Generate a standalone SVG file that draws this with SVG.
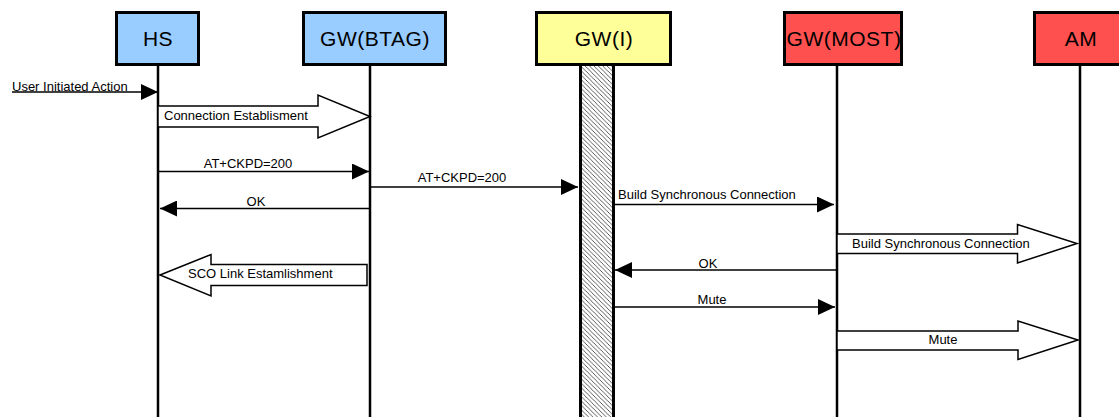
<svg xmlns="http://www.w3.org/2000/svg" width="1119" height="417" viewBox="0 0 1119 417">
  <style>
    .box { stroke: #000; stroke-width: 3; }
    .blue { fill: #99CCFF; }
    .yellow { fill: #FFFF99; }
    .red { fill: #FF5050; }
    .title { font-family: "Liberation Sans", Arial, sans-serif; font-size: 21px; letter-spacing: 0.5px; text-anchor: middle; fill: #000; }
    .life { stroke: #000; stroke-width: 2.5; fill: none; }
    .msg { stroke: #000; stroke-width: 1.5; fill: none; marker-end: url(#head); }
    .big { stroke: #000; stroke-width: 1.5; fill: #fff; stroke-linejoin: miter; }
    .lbl { font-family: "Liberation Sans", Arial, sans-serif; font-size: 13px; fill: #000; }
    .mid { text-anchor: middle; }
  </style>
  <defs>
    <marker id="head" markerUnits="userSpaceOnUse" markerWidth="17" markerHeight="16" refX="17" refY="8" orient="auto">
      <path d="M0,0 L17,8 L0,16 Z" fill="#000"/>
    </marker>
    <pattern id="hatch" patternUnits="userSpaceOnUse" width="4.4" height="4.4">
      <path d="M-1,-1 L5.4,5.4 M-1,3.4 L1,5.4 M3.4,-1 L5.4,1" stroke="#333" stroke-width="0.8"/>
    </pattern>
  </defs>

  <rect width="1119" height="417" fill="#fff"/>

  <!-- participants with their lifelines -->
  <g id="hs">
    <line class="life" x1="158" y1="65" x2="158" y2="417"/>
    <rect class="box blue" x="116.5" y="12.5" width="82" height="52"/>
    <text class="title" x="158" y="46">HS</text>
  </g>
  <g id="gw-btag">
    <line class="life" x1="370" y1="65" x2="370" y2="417"/>
    <rect class="box blue" x="303.5" y="12.5" width="142" height="52"/>
    <text class="title" x="375" y="46">GW(BTAG)</text>
  </g>
  <g id="gw-i">
    <rect x="581" y="65" width="32" height="352" fill="url(#hatch)"/>
    <line x1="580.5" y1="65" x2="580.5" y2="417" stroke="#000" stroke-width="3"/>
    <line x1="613.5" y1="65" x2="613.5" y2="417" stroke="#000" stroke-width="3"/>
    <rect class="box yellow" x="536.5" y="12.5" width="134" height="52"/>
    <text class="title" x="604" y="46">GW(I)</text>
  </g>
  <g id="gw-most">
    <line class="life" x1="837" y1="65" x2="837" y2="417"/>
    <rect class="box red" x="784.5" y="12.5" width="117" height="52"/>
    <text class="title" x="844" y="46">GW(MOST)</text>
  </g>
  <g id="am">
    <line class="life" x1="1080" y1="65" x2="1080" y2="417"/>
    <rect class="box red" x="1034.5" y="12.5" width="120" height="52"/>
    <text class="title" x="1081" y="46">AM</text>
  </g>

  <!-- messages -->
  <g id="connectors">
    <line class="msg" x1="12" y1="92" x2="158" y2="92"/>
    <text class="lbl" x="12" y="90.5">User Initiated Action</text>

    <polygon class="big" points="158,106 318,106 318,95 370,116.5 318,138 318,127 158,127"/>
    <text class="lbl" x="164" y="119.5">Connection Establisment</text>

    <line class="msg" x1="158" y1="171.5" x2="369" y2="171.5"/>
    <text class="lbl mid" x="248" y="168">AT+CKPD=200</text>

    <line class="msg" x1="370" y1="187" x2="578" y2="187"/>
    <text class="lbl mid" x="462" y="181.5">AT+CKPD=200</text>

    <line class="msg" x1="370" y1="208.5" x2="160" y2="208.5"/>
    <text class="lbl mid" x="256" y="206">OK</text>

    <line class="msg" x1="614" y1="204.5" x2="834" y2="204.5"/>
    <text class="lbl" x="618" y="198.5">Build Synchronous Connection</text>

    <polygon class="big" points="837,234 1017.5,234 1017.5,224.5 1077,243.5 1017.5,263 1017.5,253.5 837,253.5"/>
    <text class="lbl" x="852" y="247.5">Build Synchronous Connection</text>

    <polygon class="big" points="160,275 211,254.5 211,264.5 367,264.5 367,285.5 211,285.5 211,296"/>
    <text class="lbl" x="188" y="277.5">SCO Link Estamlishment</text>

    <line class="msg" x1="836" y1="270" x2="615" y2="270"/>
    <text class="lbl mid" x="708" y="267.5">OK</text>

    <line class="msg" x1="614" y1="307" x2="835" y2="307"/>
    <text class="lbl mid" x="712" y="303.5">Mute</text>

    <polygon class="big" points="837,331 1018,331 1018,321 1078,340 1018,359.5 1018,350 837,350"/>
    <text class="lbl mid" x="943" y="343.5">Mute</text>
  </g>
</svg>
